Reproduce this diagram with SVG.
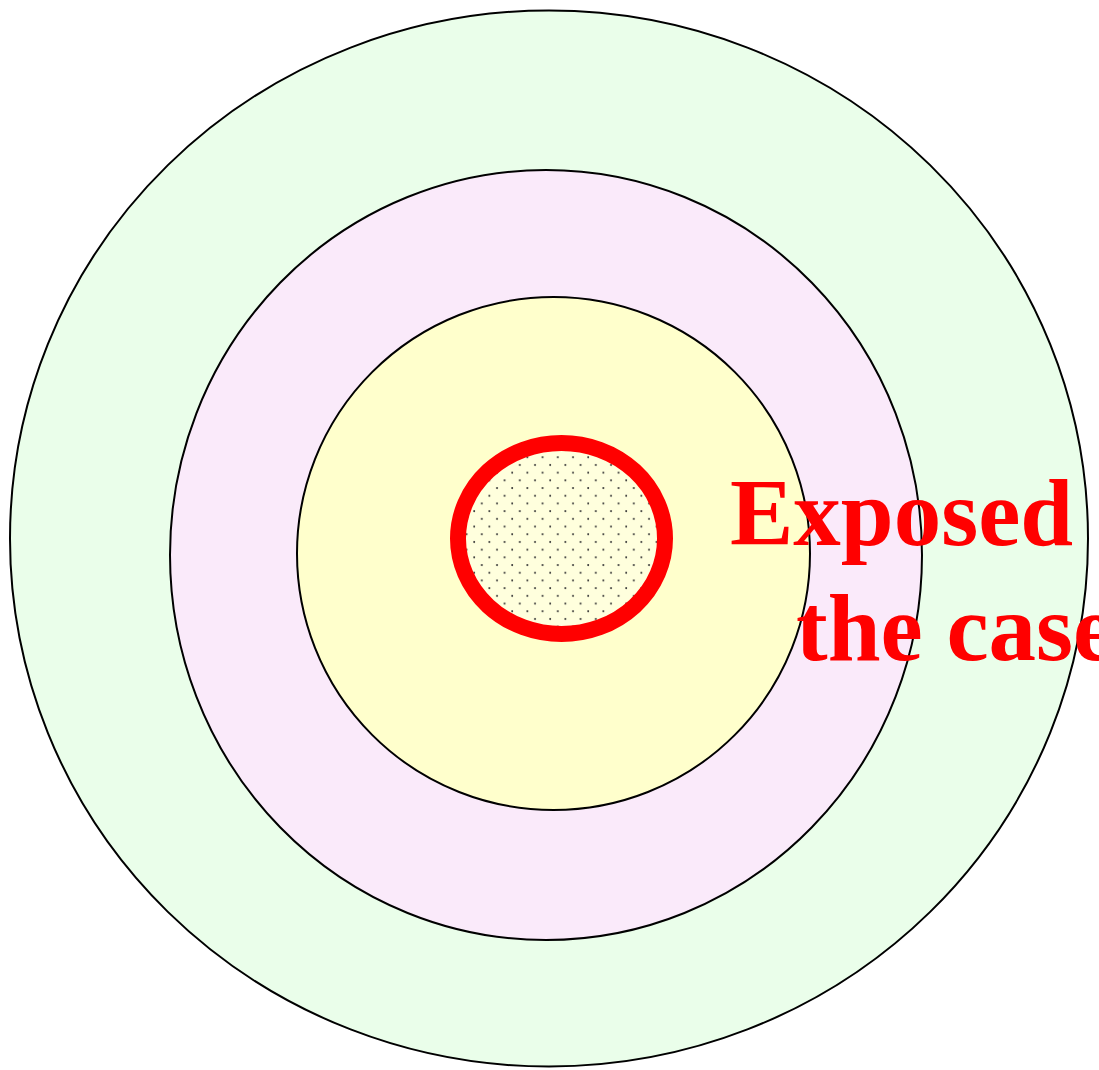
<svg xmlns="http://www.w3.org/2000/svg" width="1099" height="1070" viewBox="0 0 1099 1070">
<style>
.ring{stroke:#000;stroke-width:2}
.lbl{font-family:"Liberation Serif","Times New Roman",serif;font-weight:bold;font-size:95px;fill:#FF0000}
</style>
<defs>
<pattern id="dots" x="0" y="0" width="15.2" height="15.4" patternUnits="userSpaceOnUse">
<rect width="15.2" height="15.4" fill="#FFFFDD"/>
<circle cx="3" cy="3" r="1" fill="#333"/>
<circle cx="10.6" cy="10.7" r="1" fill="#333"/>
</pattern>
</defs>
<rect width="1099" height="1070" fill="#FFFFFF"/>
<g id="outer"><ellipse class="ring" cx="549" cy="538.5" rx="539" ry="528" fill="#EAFEEA"/></g>
<g id="middle"><ellipse class="ring" cx="546" cy="555" rx="376" ry="385" fill="#FAEAFA"/></g>
<g id="inner"><ellipse class="ring" cx="553.5" cy="553.5" rx="256.5" ry="256.5" fill="#FFFFCC"/></g>
<g id="core"><ellipse cx="561.5" cy="538.5" rx="103.5" ry="95.5" fill="url(#dots)" stroke="#FF0000" stroke-width="16"/></g>
<g id="label">
<text class="lbl" x="730" y="545">Exposed</text>
<text class="lbl" x="796" y="660">the case</text>
</g>
<g id="connectors"></g>
</svg>
